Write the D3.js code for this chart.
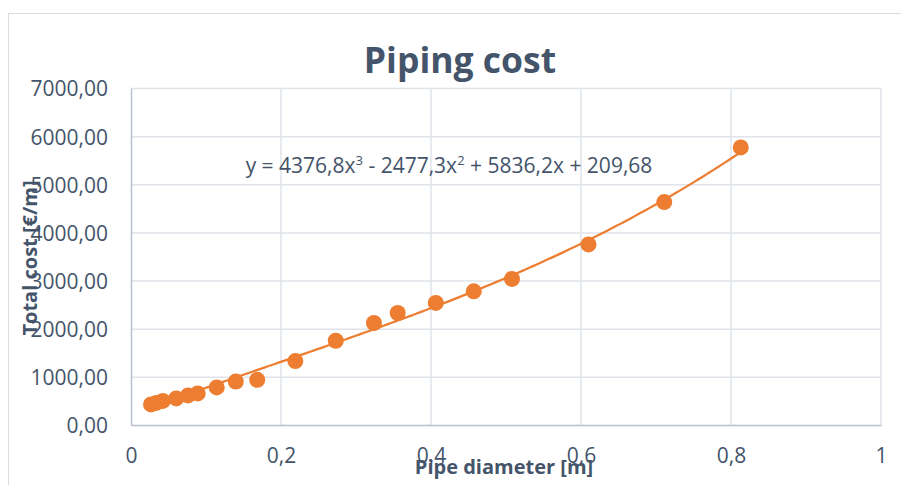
<!DOCTYPE html>
<html>
<head>
<meta charset="utf-8">
<script src="https://cdn.jsdelivr.net/npm/d3@7"></script>
<style>
  body { margin: 0; background: #fff; }
  text { font-family: "Open Sans", sans-serif; fill: #44546a; }
</style>
</head>
<body>
<div id="chart"></div>
<script>
// pipe outer diameters [m] and total cost [€/m]
const diameters = [0.0267, 0.0337, 0.0424, 0.0603, 0.0761, 0.0889, 0.1143, 0.1397, 0.1683,
  0.2191, 0.273, 0.3239, 0.3556, 0.4064, 0.457, 0.508, 0.61, 0.711, 0.813];
const costs = [427, 458, 500, 552, 615, 656, 781, 902, 938,
  1327, 1750, 2119, 2327, 2535, 2777, 3035, 3750, 4631, 5765];
// trendline coefficients (x^3, x^2, x, 1) as shown in the chart
const trendCoef = [4376.8, -2477.3, 5836.2, 209.68];
const xTicks = [0, 0.2, 0.4, 0.6, 0.8, 1];
const yTicks = [0, 1000, 2000, 3000, 4000, 5000, 6000, 7000];

const width = 901, height = 485;
const margin = {top: 88, right: 20, bottom: 60, left: 131};

const locale = d3.formatLocale({decimal: ",", thousands: "", grouping: [3], currency: ["", "€"]});
const fmtY = locale.format(".2f");
const fmtX = locale.format("~g");

const scX = d3.scaleLinear().domain([0, 1]).range([margin.left, width - margin.right]);
const scY = d3.scaleLinear().domain([0, 7000]).range([height - margin.bottom, margin.top]);

const svg = d3.select("#chart").append("svg")
  .attr("width", width)
  .attr("height", height);

// outer chart border
svg.append("rect")
  .attr("x", 8.5).attr("y", 13.5)
  .attr("width", width).attr("height", height)
  .attr("fill", "none").attr("stroke", "#d9dde3");

// grid
svg.append("g")
  .selectAll("line.h")
  .data(yTicks.slice(1))
  .join("line")
  .attr("x1", scX(0)).attr("x2", scX(1))
  .attr("y1", d => scY(d) + 0.5).attr("y2", d => scY(d) + 0.5)
  .attr("stroke", "#dfe3ea").attr("stroke-width", 1.5);
svg.append("g")
  .selectAll("line")
  .data(xTicks.slice(1))
  .join("line")
  .attr("x1", d => scX(d)).attr("x2", d => scX(d))
  .attr("y1", scY(0)).attr("y2", scY(7000))
  .attr("stroke", "#dfe3ea").attr("stroke-width", 1.5);

// axes
const yAxis = g => g.attr("transform", `translate(${scX(0)},0)`)
  .call(d3.axisLeft(scY).tickValues(yTicks).tickFormat(fmtY).tickSize(0).tickPadding(23))
  .call(g => g.select(".domain").attr("stroke", "#b8bfcd").attr("stroke-width", 1.5))
  .call(g => g.selectAll("text").attr("font-size", 21).attr("fill", "#44546a").attr("dy", "0.38em"));
const xAxis = g => g.attr("transform", `translate(0,${scY(0)})`)
  .call(d3.axisBottom(scX).tickValues(xTicks).tickFormat(fmtX).tickSize(0).tickPadding(23))
  .call(g => g.select(".domain").attr("stroke", "#b8bfcd").attr("stroke-width", 1.5))
  .call(g => g.selectAll("text").attr("font-size", 21).attr("fill", "#44546a"));
svg.append("g").call(yAxis).attr("font-family", null);
svg.append("g").call(xAxis).attr("font-family", null);

// trendline
const poly = x => trendCoef[0] * x ** 3 + trendCoef[1] * x ** 2 + trendCoef[2] * x + trendCoef[3];
const xs = d3.range(d3.min(diameters), d3.max(diameters), 0.005).concat([d3.max(diameters)]);
svg.append("path")
  .datum(xs)
  .attr("fill", "none")
  .attr("stroke", "#ed7d31")
  .attr("stroke-width", 2.25)
  .attr("d", d3.line().x(d => scX(d)).y(d => scY(poly(d))));

// points
svg.append("g")
  .selectAll("circle")
  .data(diameters)
  .join("circle")
  .attr("cx", d => scX(d))
  .attr("cy", (d, i) => scY(costs[i]))
  .attr("r", 8)
  .attr("fill", "#ed7d31");

// title and labels
svg.append("text")
  .attr("x", 460).attr("y", 73)
  .attr("text-anchor", "middle")
  .attr("font-size", 35.5).attr("font-weight", "bold")
  .text("Piping cost");

const eq = svg.append("text")
  .attr("x", 449).attr("y", 173)
  .attr("text-anchor", "middle")
  .attr("font-size", 21);
eq.append("tspan").text("y = 4376,8x");
eq.append("tspan").attr("font-size", 13).attr("dy", -8).text("3");
eq.append("tspan").attr("dy", 8).text(" - 2477,3x");
eq.append("tspan").attr("font-size", 13).attr("dy", -8).text("2");
eq.append("tspan").attr("dy", 8).text(" + 5836,2x + 209,68");

svg.append("text")
  .attr("x", 504).attr("y", 474)
  .attr("text-anchor", "middle")
  .attr("font-size", 20).attr("font-weight", "bold")
  .text("Pipe diameter [m]");

svg.append("text")
  .attr("transform", "translate(37,258) rotate(-90)")
  .attr("text-anchor", "middle")
  .attr("font-size", 20).attr("font-weight", "bold")
  .text("Total cost [€/m]");
</script>
</body>
</html>
